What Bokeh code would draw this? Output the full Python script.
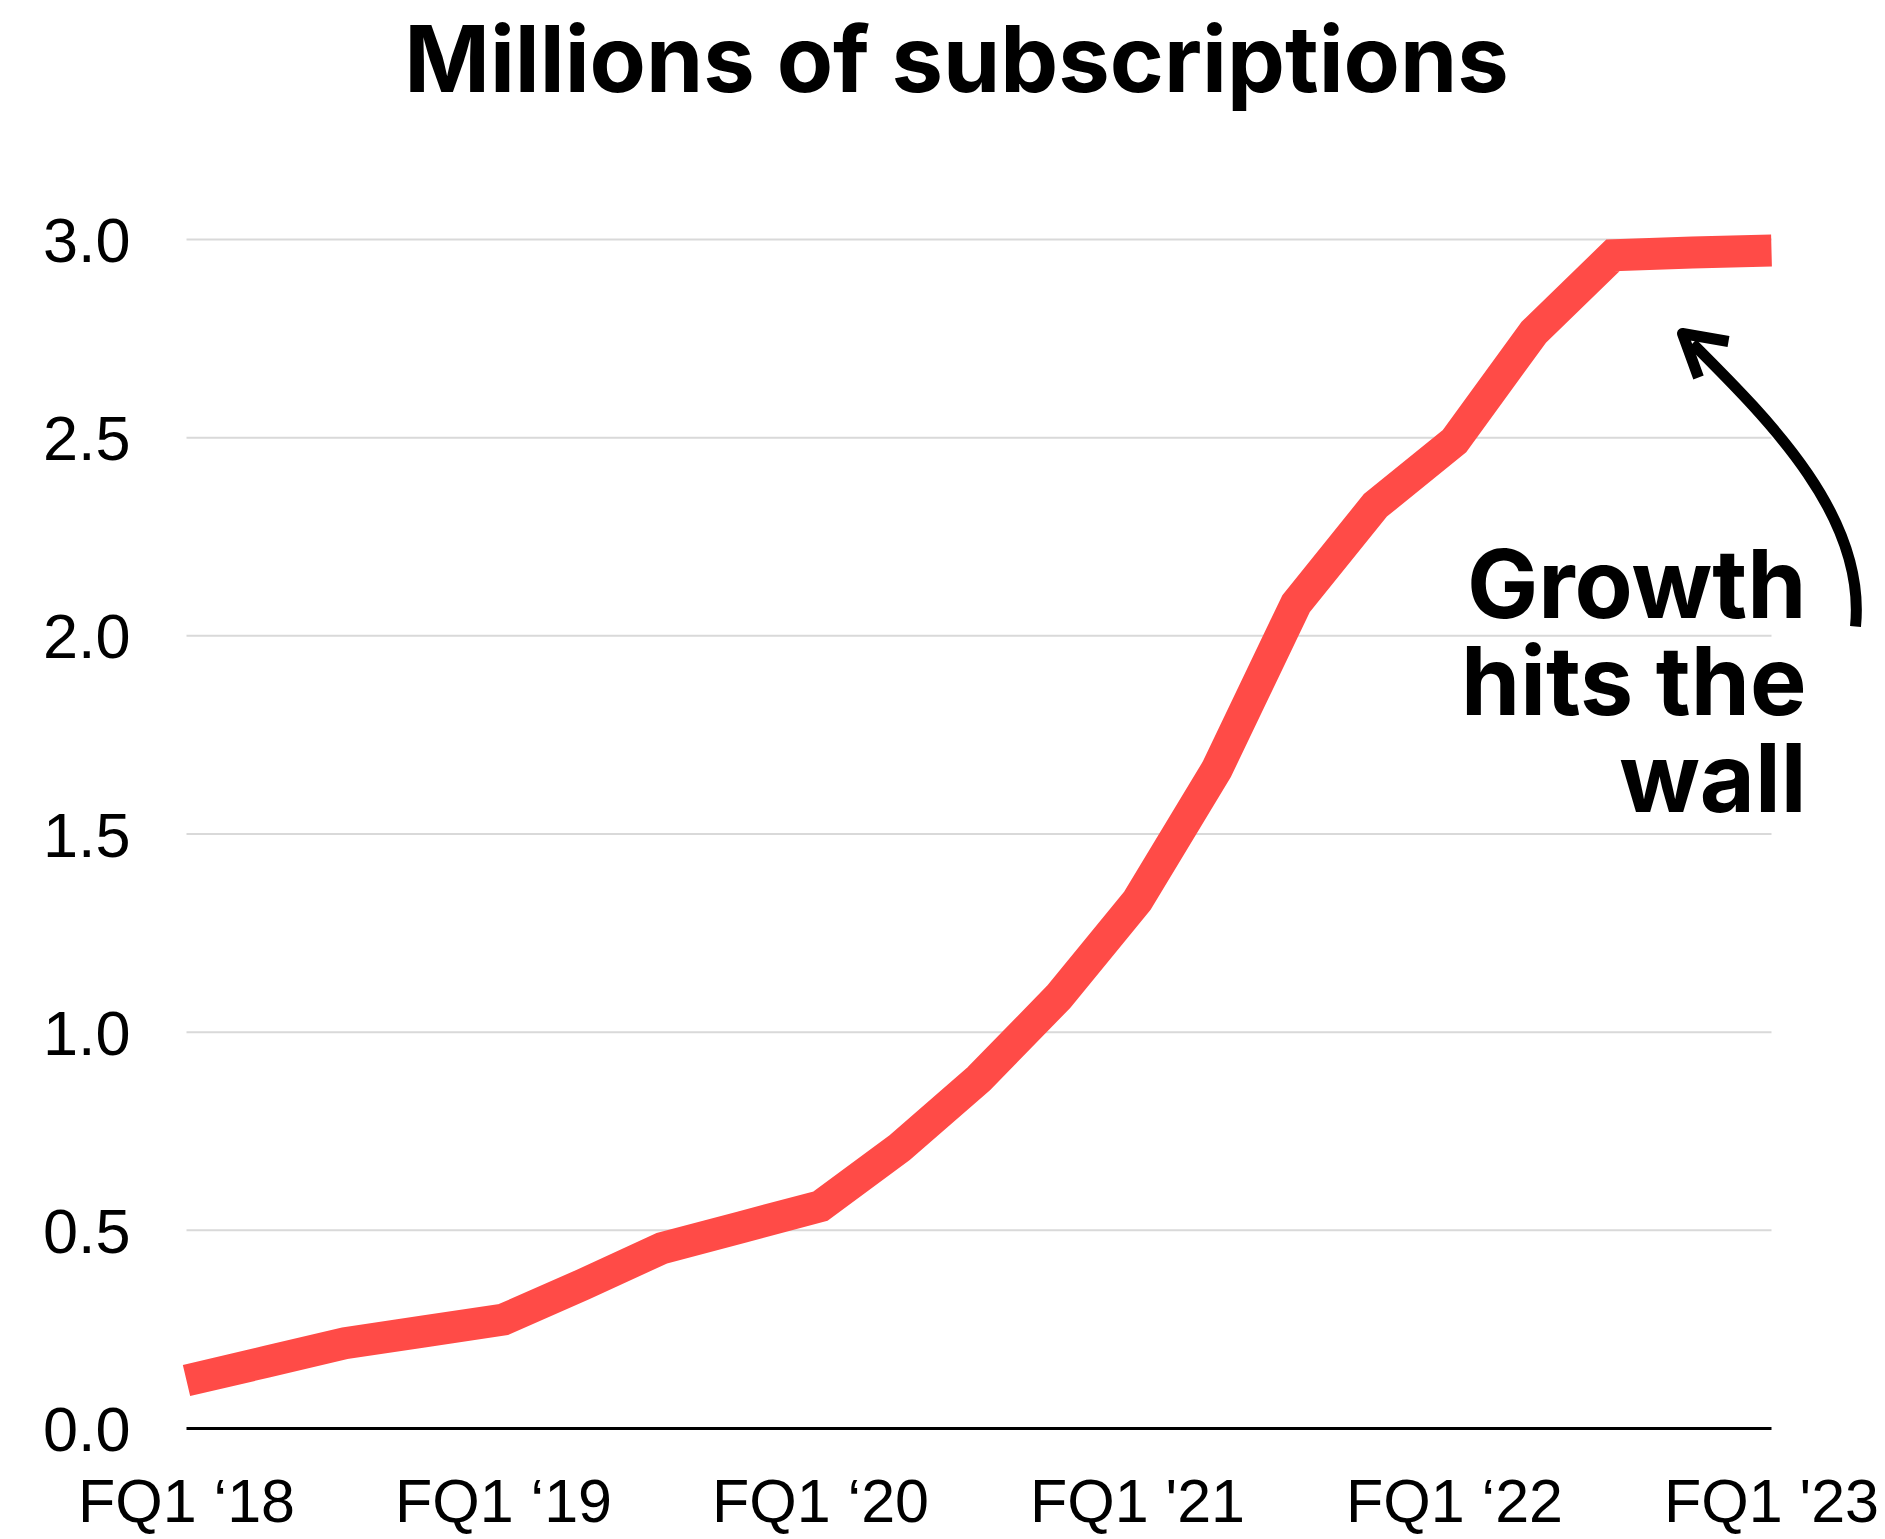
from bokeh.plotting import figure
from bokeh.models import Range1d
from bokeh.core.properties import value
from bokeh.embed import file_html
from bokeh.resources import INLINE

# ---------------- data ----------------
quarters = list(range(21))  # FQ1 '18 ... FQ1 '23 (quarter index)
subscriptions = [0.121, 0.168, 0.215, 0.245, 0.275, 0.363, 0.455, 0.508, 0.561,
                 0.709, 0.883, 1.088, 1.332, 1.663, 2.081, 2.329, 2.491, 2.766,
                 2.960, 2.967, 2.972]
y_ticks = [0.0, 0.5, 1.0, 1.5, 2.0, 2.5, 3.0]
y_tick_labels = ["0.0", "0.5", "1.0", "1.5", "2.0", "2.5", "3.0"]
x_ticks = [0, 4, 8, 12, 16, 20]
x_tick_labels = ["FQ1 \u201818", "FQ1 \u201819", "FQ1 \u201820", "FQ1 '21", "FQ1 \u201822", "FQ1 '23"]
title_text = "Millions of subscriptions"
note_lines = ["Growth", "hits the", "wall"]

# ---------------- layout (screen px of the page -> data units) ----------------
W, H = 1885, 1539
PAGE = 0
X0S, Y0S = 186.0, 1428.0          # screen position of quarter 0 / value 0
PX_X = (1771.0 - 186.0) / 20.0    # px per quarter
PX_Y = (1428.0 - 239.0) / 3.0     # px per million
BASE_SHIFT = 0.38                 # em correction for the renderer's alphabetic baseline


def dx(sx):
    return (sx - X0S) / PX_X


def dy(sy):
    return (Y0S - sy) / PX_Y


def base(sy, fs):
    return dy(sy - BASE_SHIFT * fs)


p = figure(width=W, height=H, output_backend="svg", toolbar_location=None,
           x_range=Range1d(dx(PAGE), dx(PAGE + W)),
           y_range=Range1d(dy(PAGE + H), dy(PAGE)),
           min_border=0)
p.min_border_left = 0
p.min_border_right = 0
p.min_border_top = 0
p.min_border_bottom = 0
p.xaxis.visible = False
p.yaxis.visible = False
p.grid.visible = False
p.outline_line_color = None
p.background_fill_color = "white"
p.border_fill_color = "white"

# grid lines and baseline
p.segment(x0=[quarters[0]] * 6, y0=y_ticks[1:], x1=[quarters[-1]] * 6, y1=y_ticks[1:],
          line_color="#d9d9d9", line_width=2)
p.segment(x0=[quarters[0]], y0=[y_ticks[0]], x1=[quarters[-1]], y1=[y_ticks[0]],
          line_color="black", line_width=3)

# data line
p.line(quarters, subscriptions, line_color="#FF4B47", line_width=32,
       line_join="miter", line_cap="butt")

# y tick labels
FS_Y = 63
p.text(x=[dx(130)] * len(y_ticks),
       y=[t + (BASE_SHIFT * FS_Y - 25.0) / PX_Y for t in y_ticks], text=y_tick_labels,
       text_align="right", text_baseline="alphabetic",
       text_font=value("Liberation Sans"), text_font_size=f"{FS_Y}px", text_color="black")

# x tick labels
FS_X = 61
p.text(x=x_ticks, y=[base(1524, FS_X)] * len(x_ticks), text=x_tick_labels,
       text_align="center", text_baseline="alphabetic",
       text_font=value("Liberation Sans"), text_font_size=f"{FS_X}px", text_color="black")

# title
FS_TITLE = 92
p.text(x=[dx(956)], y=[base(93, FS_TITLE)], text=[title_text], text_align="center",
       text_baseline="alphabetic", text_font=value("Inter"), text_font_style="bold",
       text_font_size=f"{FS_TITLE}px", text_color="black")

# annotation
FS_NOTE = 95
p.text(x=[dx(1806)] * 3, y=[base(619, FS_NOTE), base(716, FS_NOTE), base(813, FS_NOTE)],
       text=note_lines, text_align="right", text_baseline="alphabetic",
       text_font=value("Inter"), text_font_style="bold",
       text_font_size=f"{FS_NOTE}px", text_color="black")

# curved arrow
p.bezier(x0=[dx(1855)], y0=[dy(626)], x1=[dx(1692)], y1=[dy(343)],
         cx0=[dx(1866)], cy0=[dy(516)], cx1=[dx(1769)], cy1=[dy(420)],
         line_color="black", line_width=11)
p.line(x=[dx(1728), dx(1682), dx(1698)], y=[dy(341), dy(333), dy(377)],
       line_color="black", line_width=11, line_join="round", line_cap="butt")

open("out.html", "w").write(file_html(p, INLINE))
